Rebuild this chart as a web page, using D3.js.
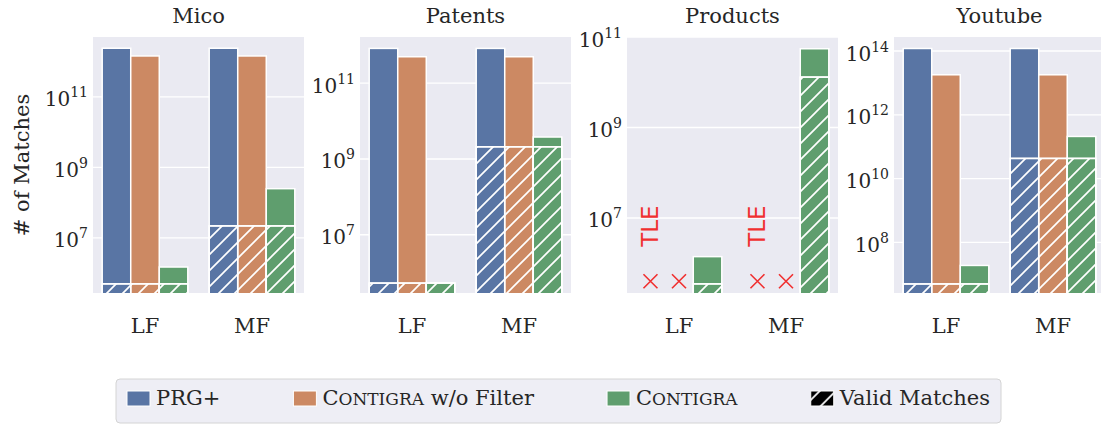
<!DOCTYPE html>
<html>
<head>
<meta charset="utf-8">
<script src="https://cdn.jsdelivr.net/npm/d3@7"></script>
<style>
  body { margin: 0; background: #fff; }
  text { font-family: "DejaVu Serif", serif; fill: #262626; }
</style>
</head>
<body>
<div id="chart"></div>
<script>
// data
var datasets = ["Mico", "Patents", "Products", "Youtube"];
var groups = ["LF", "MF"];
var methods = ["PRG+", "Contigra w/o Filter", "Contigra"];
var colors = ["#5975a4", "#cc8963", "#5f9e6e"];

// total matches: [dataset][group][method], null = TLE
var totalMatches = [
  [[2.4e12, 1.45e12, 1.5e6], [2.4e12, 1.45e12, 2.5e8]],
  [[8.3e11, 5.0e11, 5.3e5], [8.3e11, 5.0e11, 3.8e9]],
  [[null, null, 1.4e6], [null, null, 5.5e10]],
  [[1.2e14, 1.8e13, 1.9e7], [1.2e14, 1.8e13, 2.1e11]]
];
// valid matches (hatched part)
var validMatches = [
  [[5.0e5, 5.0e5, 5.0e5], [2.2e7, 2.2e7, 2.2e7]],
  [[5.3e5, 5.3e5, 5.3e5], [2.1e9, 2.1e9, 2.1e9]],
  [[null, null, 3.5e5], [null, null, 1.3e10]],
  [[5.0e6, 5.0e6, 5.0e6], [4.3e10, 4.3e10, 4.3e10]]
];
var yLimits = [[2.75e5, 5.0e12], [2.9e5, 1.66e12], [2.2e5, 1e11], [2.6e6, 2.75e14]];
var yTicks = [[1e7, 1e9, 1e11], [1e7, 1e9, 1e11], [1e7, 1e9, 1e11], [1e8, 1e10, 1e12, 1e14]];
var tleMarkValue = 4e5;
var tleTextValue = 6.6e6;

var width = 1101, height = 425;
var plotTop = 37, plotBottom = 293, panelW = 211, firstLeft = 93, panelStep = 267;

var svg = d3.select('#chart').append('svg')
  .attr('width', width).attr('height', height);

var defs = svg.append('defs');
var hs = 16;
defs.append('pattern')
  .attr('id', 'hatch')
  .attr('patternUnits', 'userSpaceOnUse')
  .attr('width', hs).attr('height', hs)
  .append('path')
  .attr('d', 'M-1,1 l2,-2 M0,' + hs + ' l' + hs + ',-' + hs + ' M' + (hs - 1) + ',' + (hs + 1) + ' l2,-2')
  .attr('stroke', '#fff').attr('stroke-width', 1.7);

datasets.forEach(function(name, i) {
  var left = firstLeft + i * panelStep;
  var g = svg.append('g');

  var x = d3.scaleBand().domain(groups).range([left, left + panelW])
    .paddingInner(0.2).paddingOuter(0.086);
  var xm = d3.scaleBand().domain(methods).range([0, x.bandwidth()]);
  var y = d3.scaleLog().domain(yLimits[i]).range([plotBottom, plotTop]);

  g.append('clipPath').attr('id', 'clip' + i)
    .append('rect').attr('x', left).attr('y', plotTop).attr('width', panelW).attr('height', plotBottom - plotTop);

  g.append('rect')
    .attr('x', left).attr('y', plotTop).attr('width', panelW).attr('height', plotBottom - plotTop)
    .attr('fill', '#eaeaf2');

  // grid
  g.append('g').selectAll('line').data(yTicks[i]).enter().append('line')
    .attr('x1', left).attr('x2', left + panelW)
    .attr('y1', function(d) { return y(d); }).attr('y2', function(d) { return y(d); })
    .attr('stroke', '#fff').attr('stroke-width', 1.3);

  // y axis labels
  var ax = g.append('g').attr('transform', 'translate(' + left + ',0)')
    .call(d3.axisLeft(y).tickValues(yTicks[i]).tickSize(0).tickPadding(5).tickFormat(''));
  ax.select('.domain').remove();
  ax.selectAll('.tick text')
    .attr('dy', '0.45em')
    .style('font-size', '20px')
    .style('font-family', '"DejaVu Serif", serif')
    .attr('fill', '#262626')
    .each(function(d) {
      var t = d3.select(this);
      t.append('tspan').text('10');
      t.append('tspan').attr('dy', -9).style('font-size', '14px').text(Math.round(Math.log10(d)));
    });

  // bars
  var bars = g.append('g').attr('clip-path', 'url(#clip' + i + ')');
  groups.forEach(function(grp, gi) {
    methods.forEach(function(m, mi) {
      var tot = totalMatches[i][gi][mi];
      var val = validMatches[i][gi][mi];
      var bx = x(grp) + xm(m);
      if (tot == null) {
        var cx = bx + xm.bandwidth() / 2, cy = y(tleMarkValue), r = 7;
        g.append('path')
          .attr('d', 'M' + (cx - r) + ',' + (cy - r) + 'L' + (cx + r) + ',' + (cy + r) +
                     'M' + (cx - r) + ',' + (cy + r) + 'L' + (cx + r) + ',' + (cy - r))
          .attr('stroke', '#f03030').attr('stroke-width', 1.6).attr('fill', 'none');
        return;
      }
      bars.append('rect')
        .attr('x', bx).attr('y', y(tot)).attr('width', xm.bandwidth()).attr('height', plotBottom + 5 - y(tot))
        .attr('fill', colors[mi]).attr('stroke', '#fff').attr('stroke-width', 1.5);
      bars.append('rect')
        .attr('x', bx).attr('y', y(val)).attr('width', xm.bandwidth()).attr('height', plotBottom + 5 - y(val))
        .attr('fill', colors[mi]).attr('stroke', '#fff').attr('stroke-width', 1.5);
      bars.append('rect')
        .attr('x', bx).attr('y', y(val)).attr('width', xm.bandwidth()).attr('height', plotBottom + 5 - y(val))
        .attr('fill', 'url(#hatch)').attr('stroke', '#fff').attr('stroke-width', 1.5);
    });
    if (totalMatches[i][gi][0] == null) {
      var tx = x(grp) + xm.bandwidth() / 2, ty = y(tleTextValue);
      g.append('text')
        .attr('transform', 'translate(' + tx + ',' + ty + ') rotate(-90)')
        .attr('text-anchor', 'middle').attr('dominant-baseline', 'central')
        .style('font-family', '"DejaVu Sans", sans-serif').style('font-size', '23px')
        .style('fill', '#f03030')
        .text('TLE');
    }
  });

  // x labels
  g.selectAll('.xl').data(groups).enter().append('text')
    .attr('x', function(d) { return x(d) + x.bandwidth() / 2; })
    .attr('y', 333).attr('text-anchor', 'middle').style('font-size', '21px')
    .text(function(d) { return d; });

  // title
  g.append('text').attr('x', left + panelW / 2).attr('y', 23)
    .attr('text-anchor', 'middle').style('font-size', '21px').text(name);
});

svg.append('text')
  .attr('transform', 'translate(29,165) rotate(-90)')
  .attr('text-anchor', 'middle').style('font-size', '21px')
  .text('# of Matches');

// legend
var legend = svg.append('g');
var box = legend.append('rect');
var items = legend.append('g');
var entries = [
  { label: methods[0], fill: colors[0] },
  { label: methods[1], fill: colors[1] },
  { label: methods[2], fill: colors[2] },
  { label: 'Valid Matches', fill: '#000', hatch: true }
];
var nodes = entries.map(function(e) {
  var eg = items.append('g');
  eg.append('rect').attr('x', 0).attr('y', 391).attr('width', 23).attr('height', 15)
    .attr('fill', e.fill).attr('stroke', '#fff').attr('stroke-width', 1);
  if (e.hatch) {
    eg.append('rect').attr('x', 0).attr('y', 391).attr('width', 23).attr('height', 15)
      .attr('fill', 'url(#hatch)');
  }
  var t = eg.append('text').attr('x', 29).attr('y', 405).style('font-size', '21px');
  if (e.label.indexOf('Contigra') === 0) {
    t.append('tspan').text('C');
    t.append('tspan').style('font-size', '17px').text('ONTIGRA');
    t.append('tspan').text(e.label.slice(8));
  } else {
    t.text(e.label);
  }
  return { g: eg, w: 29 + t.node().getComputedTextLength() };
});
var legendLeft = 127, legendRight = 990;
var sumW = d3.sum(nodes, function(n) { return n.w; });
var gap = (legendRight - legendLeft - sumW) / (nodes.length - 1);
var lx = legendLeft;
nodes.forEach(function(n) {
  n.g.attr('transform', 'translate(' + lx + ',0)');
  lx += n.w + gap;
});
box.attr('x', legendLeft - 11).attr('y', 379).attr('width', legendRight - legendLeft + 22).attr('height', 44)
  .attr('rx', 4).attr('fill', '#eeeef5').attr('stroke', '#d4d4d4').attr('stroke-width', 1);
</script>
</body>
</html>
